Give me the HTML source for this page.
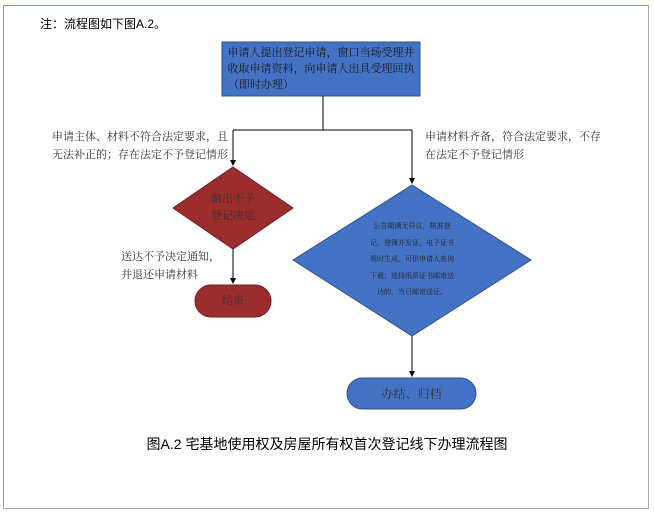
<!DOCTYPE html>
<html><head><meta charset="utf-8"><style>
body{margin:0;background:#fff;width:654px;height:514px;position:relative;overflow:hidden;font-family:"Liberation Serif","Noto Serif CJK SC",serif;}
.t{position:absolute;font-size:11px;color:#333;line-height:18px;white-space:nowrap}
</style></head><body>
<div style="position:absolute;left:3px;top:5px;width:646px;height:504px;border:1px solid #7cb342;border-right-color:#aaa;border-bottom-color:#aaa;box-sizing:border-box"></div>
<div class="t" style="left:40px;top:15px;font-family:'Liberation Sans','Noto Sans CJK SC',sans-serif;font-size:12px;color:#000">注：流程图如下图A.2。</div>
<svg style="position:absolute;left:0;top:0" width="654" height="514">
<defs><marker id="a" markerWidth="6" markerHeight="6" refX="5" refY="3" orient="auto"><path d="M0,0L6,3L0,6z" fill="#000"/></marker></defs>
<rect x="222" y="42" width="198" height="54" fill="#4472c4" stroke="#2f528f"/>
<path d="M323,96V130M233,130H412" stroke="#000" fill="none"/>
<path d="M233,130V165" stroke="#000" marker-end="url(#a)"/>
<path d="M412,130V183" stroke="#000" marker-end="url(#a)"/>
<polygon points="233,167 293,208 233,249 173,208" fill="#9b2d2d" stroke="#6e1e1e"/>
<path d="M233,249V283" stroke="#000" marker-end="url(#a)"/>
<rect x="195" y="285" width="76" height="32" rx="16" fill="#9b2d2d" stroke="#6e1e1e"/>
<polygon points="412,185 531,260 412,336 293,260" fill="#4472c4" stroke="#2f528f"/>
<path d="M412,336V376" stroke="#000" marker-end="url(#a)"/>
<rect x="347" y="378" width="129" height="31" rx="15.5" fill="#4472c4" stroke="#2f528f"/>
</svg>
<div class="t" style="left:222px;top:45px;width:198px;text-align:center;font-size:11px;line-height:16px;color:#1a1a1a">申请人提出登记申请，窗口当场受理并<br>收取申请资料，向申请人出具受理回执<br><span style="margin-right:120px">（即时办理）</span></div>
<div class="t" style="left:52px;top:128px">申请主体、材料不符合法定要求，且<br>无法补正的；存在法定不予登记情形</div>
<div class="t" style="left:425px;top:128px">申请材料齐备，符合法定要求，不存<br>在法定不予登记情形</div>
<div class="t" style="left:173px;top:191px;width:120px;text-align:center;line-height:17px">做出不予<br>登记决定</div>
<div class="t" style="left:121px;top:248px">送达不予决定通知，<br>并退还申请材料</div>
<div class="t" style="left:195px;top:292px;width:76px;text-align:center">结束</div>
<div class="t" style="left:352px;top:218px;width:120px;text-align:center;font-size:7px;line-height:16.5px;color:#222">公告期满无异议，核准登<br>记，登簿并发证，电子证书<br>规时生成，可供申请人查询<br>下载；选择纸质证书邮寄送<br>达的，当日邮寄送证。</div>
<div class="t" style="left:347px;top:385px;width:129px;text-align:center;font-size:12px">办结、归档</div>
<div class="t" style="left:0;top:435px;width:654px;text-align:center;font-family:'Liberation Sans','Noto Sans CJK SC',sans-serif;font-size:14px;color:#000">图A.2 宅基地使用权及房屋所有权首次登记线下办理流程图</div>
</body></html>
